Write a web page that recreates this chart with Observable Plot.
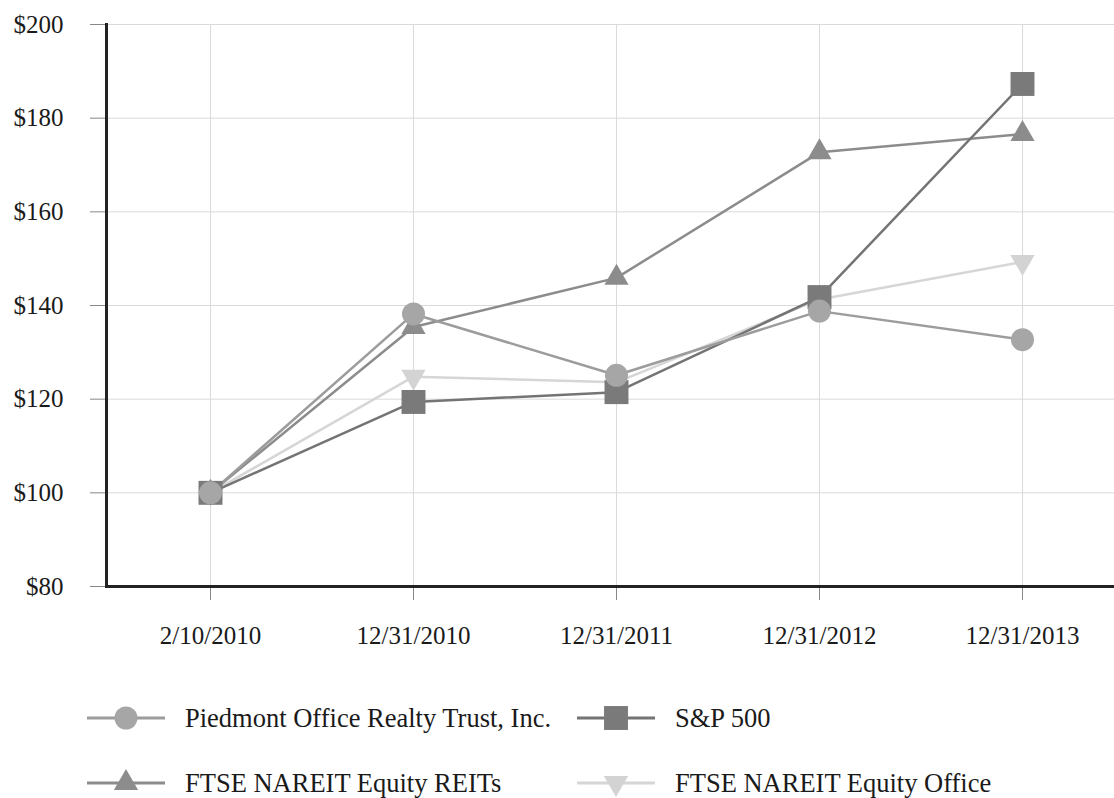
<!DOCTYPE html>
<html>
<head>
<meta charset="utf-8">
<script src="https://cdn.jsdelivr.net/npm/d3@7"></script>
<script src="https://cdn.jsdelivr.net/npm/@observablehq/plot@0.6"></script>
<style>
  body { margin: 0; background: #fff; font-family: "Liberation Serif", "Tinos", "Times New Roman", "DejaVu Serif", serif; }
  #chart { position: relative; width: 1114px; height: 798px; overflow: hidden; }
  .legend-item { position: absolute; display: flex; align-items: center; font-size: 26.5px; color: #1a1a1a; height: 30px; white-space: nowrap; }
  .legend-item svg { margin-right: 20px; }
</style>
</head>
<body>
<div id="chart"></div>
<script>
// ---- data ----
const dates = ["2/10/2010", "12/31/2010", "12/31/2011", "12/31/2012", "12/31/2013"];
const seriesNames = ["Piedmont Office Realty Trust, Inc.", "S&P 500", "FTSE NAREIT Equity REITs", "FTSE NAREIT Equity Office"];
const piedmont = [100, 138.2, 125.1, 138.8, 132.7];
const sp500    = [100, 119.4, 121.5, 141.8, 187.3];
const reits    = [100, 135.4, 145.9, 172.7, 176.6];
const office   = [100, 124.8, 123.6, 141.3, 149.3];
const yTicks = [80, 100, 120, 140, 160, 180, 200];

// ---- styles ----
const FONT = "'Liberation Serif', 'Tinos', 'Times New Roman', 'DejaVu Serif', serif";
const styles = {
  "Piedmont Office Realty Trust, Inc.": {line: "#9c9c9c", fill: "#a6a6a6", symbol: "circle", r: 11.5, rotate: 0},
  "S&P 500": {line: "#747474", fill: "#7a7a7a", symbol: "square", r: 13.5, rotate: 0},
  "FTSE NAREIT Equity REITs": {line: "#8c8c8c", fill: "#8c8c8c", symbol: "triangle", r: 9, rotate: 0},
  "FTSE NAREIT Equity Office": {line: "#d6d6d6", fill: "#d3d3d3", symbol: "triangle", r: 9, rotate: 180}
};
const values = [piedmont, sp500, reits, office];
const rows = seriesNames.flatMap((name, i) => dates.map((d, j) => ({series: name, date: d, value: values[i][j]})));

// drawing order: office, reits, s&p, piedmont (piedmont on top)
const order = [3, 2, 1, 0].map(i => seriesNames[i]);
const lineMarks = order.map(name => Plot.line(rows.filter(r => r.series === name), {
  x: "date", y: "value", stroke: styles[name].line, strokeWidth: 2.5
}));
const dotMarks = order.map(name => Plot.dot(rows.filter(r => r.series === name), {
  x: "date", y: "value", symbol: styles[name].symbol, r: styles[name].r,
  fill: styles[name].fill, stroke: "none", rotate: styles[name].rotate
}));

const chart = Plot.plot({
  width: 1114,
  height: 660,
  marginLeft: 106,
  marginRight: 0,
  marginTop: 24,
  marginBottom: 74,
  style: {fontFamily: FONT, fontSize: "25px", color: "#1a1a1a", background: "white", overflow: "visible"},
  x: {type: "point", domain: dates, range: [208, 1023], padding: 0, label: null},
  y: {domain: [80, 200], label: null},
  marks: [
    Plot.gridY(yTicks, {stroke: "#dadada", strokeOpacity: 1}),
    Plot.gridX({stroke: "#dadada", strokeOpacity: 1}),
    Plot.axisX({tickSize: 14, tickPadding: 26, stroke: "#888", label: null}),
    Plot.axisY(yTicks, {tickSize: 16, tickPadding: 27, tickFormat: d => "$" + d, stroke: "#888", label: null}),
    Plot.frame({anchor: "left", stroke: "#222", strokeWidth: 3}),
    Plot.frame({anchor: "bottom", stroke: "#222", strokeWidth: 3}),
    ...lineMarks,
    ...dotMarks
  ]
});
const container = document.getElementById("chart");
container.appendChild(chart);

// ---- legend ----
const legendLayout = [
  {name: seriesNames[0], left: 87, top: 703},
  {name: seriesNames[1], left: 577, top: 703},
  {name: seriesNames[2], left: 87, top: 768},
  {name: seriesNames[3], left: 577, top: 768}
];
const symbolMap = {circle: d3.symbolCircle, square: d3.symbolSquare, triangle: d3.symbolTriangle};
for (const item of legendLayout) {
  const st = styles[item.name];
  const div = document.createElement("div");
  div.className = "legend-item";
  div.style.left = item.left + "px";
  div.style.top = item.top + "px";
  const svg = d3.create("svg").attr("width", 78).attr("height", 30);
  svg.append("line").attr("x1", 0).attr("x2", 78).attr("y1", 15).attr("y2", 15)
    .attr("stroke", st.line).attr("stroke-width", 3);
  svg.append("path")
    .attr("d", d3.symbol(symbolMap[st.symbol], Math.PI * st.r * st.r)())
    .attr("transform", `translate(39,15) rotate(${st.rotate})`)
    .attr("fill", st.fill);
  div.appendChild(svg.node());
  const span = document.createElement("span");
  span.textContent = item.name;
  div.appendChild(span);
  container.appendChild(div);
}
</script>
</body>
</html>
